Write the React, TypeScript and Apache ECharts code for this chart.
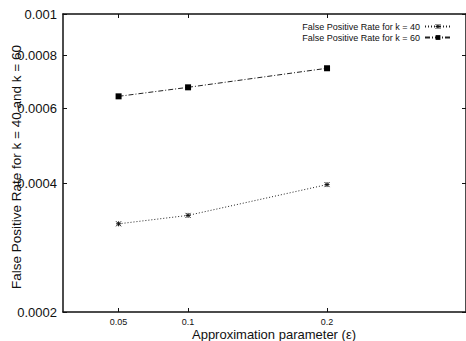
import React, { useEffect, useRef } from "react";
import * as echarts from "echarts";

const epsValues = [0.05, 0.1, 0.2];
const fprK40 = [0.000322, 0.000337, 0.000398];
const fprK60 = [0.000641, 0.000673, 0.000746];
const xTicks = [0.05, 0.1, 0.2];
const yTicks = [0.0002, 0.0004, 0.0006, 0.0008, 0.001];
const yTickLabels = ["0.0002", "0.0004", "0.0006", "0.0008", "0.001"];
const seriesNames = ["False Positive Rate for k = 40", "False Positive Rate for k = 60"];

const FONT = "Liberation Sans, Arial, Helvetica, sans-serif";

export default function App() {
  const ref = useRef<HTMLDivElement>(null);
  useEffect(() => {
    if (!ref.current) return;
    const chart = echarts.init(ref.current, undefined, { renderer: "svg" });
    const axisLine = { show: true, lineStyle: { color: "#111", width: 1.5 } };
    const yLabel = (v: number) => {
      const i = yTicks.findIndex((t) => Math.abs(t - v) / t < 1e-6);
      return i >= 0 ? yTickLabels[i] : "";
    };
    const star = "path://M0,0L10,10M10,0L0,10M5,0L5,10M0,5L10,5";
    chart.setOption({
      animation: false,
      grid: { left: 63, top: 14, right: 0, bottom: 29 },
      legend: {
        show: true,
        orient: "vertical",
        right: 9,
        top: 17,
        align: "right",
        itemWidth: 26,
        itemHeight: 6,
        itemGap: 2,
        textStyle: { fontSize: 9, color: "#111", fontFamily: FONT },
        data: [
          { name: seriesNames[0], itemStyle: { color: "#555", borderColor: "#111", borderWidth: 1 } },
          { name: seriesNames[1] },
        ],
      },
      xAxis: [
        {
          type: "value",
          min: 0.01,
          max: 0.3,
          position: "bottom",
          axisLine,
          splitLine: { show: false },
          axisTick: { show: true, inside: true, length: 4, customValues: xTicks, lineStyle: { color: "#111" } },
          axisLabel: {
            show: true,
            customValues: xTicks,
            margin: 5,
            fontSize: 9,
            color: "#111",
            fontFamily: FONT,
            formatter: (v: number) => String(v),
          },
        },
        {
          type: "value",
          min: 0.01,
          max: 0.3,
          position: "top",
          axisLine,
          splitLine: { show: false },
          axisTick: { show: true, inside: true, length: 4, customValues: xTicks, lineStyle: { color: "#111" } },
          axisLabel: { show: false },
        },
      ],
      yAxis: [
        {
          type: "log",
          logBase: 10,
          min: 0.0002,
          max: 0.001,
          position: "left",
          axisLine,
          splitLine: { show: false },
          axisTick: { show: true, inside: true, length: 4, customValues: yTicks, lineStyle: { color: "#111" } },
          axisLabel: {
            show: true,
            customValues: yTicks,
            margin: 6,
            fontSize: 13,
            color: "#111",
            fontFamily: FONT,
            formatter: yLabel,
          },
        },
        {
          type: "log",
          logBase: 10,
          min: 0.0002,
          max: 0.001,
          position: "right",
          axisLine,
          splitLine: { show: false },
          axisTick: { show: true, inside: true, length: 4, customValues: yTicks, lineStyle: { color: "#111" } },
          axisLabel: { show: false },
        },
      ],
      series: [
        {
          name: seriesNames[0],
          type: "line",
          xAxisIndex: 0,
          yAxisIndex: 0,
          data: epsValues.map((x, i) => [x, fprK40[i]]),
          symbol: star,
          symbolSize: 5,
          lineStyle: { color: "#222", width: 1, type: [1, 2] },
          itemStyle: { color: "#222", borderColor: "#111", borderWidth: 1 },
        },
        {
          name: seriesNames[1],
          type: "line",
          xAxisIndex: 0,
          yAxisIndex: 0,
          data: epsValues.map((x, i) => [x, fprK60[i]]),
          symbol: "rect",
          symbolSize: 6,
          lineStyle: { color: "#222", width: 1, type: [5, 2, 1, 2] },
          itemStyle: { color: "#000" },
        },
      ],
      graphic: [
        {
          type: "text",
          x: 16,
          y: 167,
          rotation: Math.PI / 2,
          style: {
            text: "False Positive Rate for k = 40 and k = 60",
            font: `13.5px ${FONT}`,
            fill: "#111",
            align: "center",
            verticalAlign: "middle",
          },
        },
        {
          type: "text",
          x: 274,
          y: 334,
          style: {
            text: "Approximation parameter (ε)",
            font: `13px ${FONT}`,
            fill: "#111",
            align: "center",
            verticalAlign: "middle",
          },
        },
      ],
    });
    return () => chart.dispose();
  }, []);
  return (
    <div
      ref={ref}
      style={{ position: "fixed", left: 0, top: 0, width: 466, height: 341, background: "#fff" }}
    />
  );
}
